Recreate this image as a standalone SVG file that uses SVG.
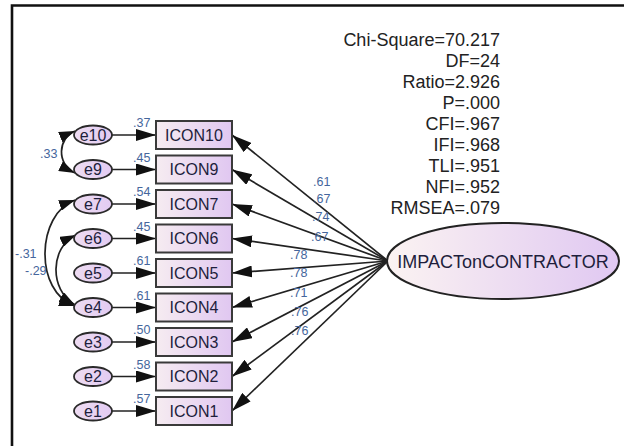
<svg xmlns="http://www.w3.org/2000/svg" width="624" height="446" viewBox="0 0 624 446">
  <style>
    .frame { fill: none; stroke: #111; stroke-width: 2.6; }
    .box { fill: url(#boxFill); stroke: #3a3a3a; stroke-width: 2; }
    .err { fill: url(#errFill); stroke: #2a2a2a; stroke-width: 1.8; }
    .latent { fill: url(#latFill); stroke: #222; stroke-width: 2; }
    .name { font-family: "Liberation Sans", Arial, sans-serif; font-size: 16px; fill: #1e1e3c; text-anchor: middle; }
    .lat { font-family: "Liberation Sans", Arial, sans-serif; font-size: 18px; fill: #1e1e3c; text-anchor: middle; }
    .est { font-family: "Liberation Sans", Arial, sans-serif; font-size: 12.5px; fill: #45669c; }
    .fit { font-family: "Liberation Sans", Arial, sans-serif; font-size: 18px; fill: #222; text-anchor: end; }
    .path { fill: none; stroke: #222; stroke-width: 1.7; marker-end: url(#head); }
    .cov { fill: none; stroke: #222; stroke-width: 1.7; marker-start: url(#covHead); marker-end: url(#covHead); }
  </style>
  <defs>
    <linearGradient id="boxFill" x1="0" y1="0" x2="1" y2="0">
      <stop offset="0" stop-color="#f6ecf1"/>
      <stop offset="1" stop-color="#e0c7f1"/>
    </linearGradient>
    <linearGradient id="errFill" x1="0" y1="0" x2="1" y2="0">
      <stop offset="0" stop-color="#eedcf2"/>
      <stop offset="1" stop-color="#e2cbf2"/>
    </linearGradient>
    <linearGradient id="latFill" x1="0" y1="0" x2="1" y2="0">
      <stop offset="0" stop-color="#fbf3f2"/>
      <stop offset="1" stop-color="#e0c8f2"/>
    </linearGradient>
    <marker id="head" markerUnits="userSpaceOnUse" markerWidth="20" markerHeight="12" viewBox="0 0 20 12" refX="20" refY="6" orient="auto">
      <path d="M0,0 L20,6 L0,12 Z" fill="#111"/>
    </marker>
    <marker id="covHead" markerUnits="userSpaceOnUse" markerWidth="16" markerHeight="11" viewBox="0 0 16 11" refX="16" refY="5.5" orient="auto-start-reverse">
      <path d="M0,0 L16,5.5 L0,11 Z" fill="#111"/>
    </marker>
  </defs>

  <!-- frame -->
  <path class="frame" d="M12,446 L12,5.5 L624,5.5"/>

  <!-- fit statistics -->
  <g id="fit-stats">
    <text class="fit" x="500" y="45.5">Chi-Square=70.217</text>
    <text class="fit" x="500" y="66.6">DF=24</text>
    <text class="fit" x="500" y="87.7">Ratio=2.926</text>
    <text class="fit" x="500" y="108.8">P=.000</text>
    <text class="fit" x="500" y="129.9">CFI=.967</text>
    <text class="fit" x="500" y="151">IFI=.968</text>
    <text class="fit" x="500" y="172.1">TLI=.951</text>
    <text class="fit" x="500" y="193.2">NFI=.952</text>
    <text class="fit" x="500" y="214.3">RMSEA=.079</text>
  </g>

  <!-- connectors -->
  <g id="connectors">
    <!-- error terms to indicators -->
    <path class="path" d="M112,135 L156,135"/>
    <path class="path" d="M112,169.5 L156,169.5"/>
    <path class="path" d="M112,204 L156,204"/>
    <path class="path" d="M112,238.5 L156,238.5"/>
    <path class="path" d="M112,273 L156,273"/>
    <path class="path" d="M112,307.5 L156,307.5"/>
    <path class="path" d="M112,342 L156,342"/>
    <path class="path" d="M112,376.5 L156,376.5"/>
    <path class="path" d="M112,411 L156,411"/>
    <!-- factor loadings -->
    <path class="path" d="M388,261 L232,135"/>
    <path class="path" d="M388,261 L232,169.5"/>
    <path class="path" d="M388,261 L232,204"/>
    <path class="path" d="M388,261 L232,238.5"/>
    <path class="path" d="M388,261 L232,273"/>
    <path class="path" d="M388,261 L232,307.5"/>
    <path class="path" d="M388,261 L232,342"/>
    <path class="path" d="M388,261 L232,376.5"/>
    <path class="path" d="M388,261 L232,411"/>
    <!-- error covariances -->
    <path class="cov" d="M75,131 C58,138 56,164 75,173"/>
    <path class="cov" d="M75,200 C36,214 34,292 75,306"/>
    <path class="cov" d="M76,235 C50,247 49,290 75,305"/>
    <!-- estimates -->
    <text class="est" x="40" y="158">.33</text>
    <text class="est" x="15" y="258">-.31</text>
    <text class="est" x="25" y="275">-.29</text>
    <text class="est" x="133" y="127">.37</text>
    <text class="est" x="133" y="162">.45</text>
    <text class="est" x="133" y="196">.54</text>
    <text class="est" x="133" y="231">.45</text>
    <text class="est" x="133" y="265">.61</text>
    <text class="est" x="133" y="300">.61</text>
    <text class="est" x="133" y="334">.50</text>
    <text class="est" x="133" y="369">.58</text>
    <text class="est" x="133" y="403">.57</text>
    <text class="est" x="313" y="186">.61</text>
    <text class="est" x="313" y="203">.67</text>
    <text class="est" x="312" y="221">.74</text>
    <text class="est" x="311" y="241">.67</text>
    <text class="est" x="290" y="259">.78</text>
    <text class="est" x="290" y="277">.78</text>
    <text class="est" x="290" y="297">.71</text>
    <text class="est" x="291" y="316">.76</text>
    <text class="est" x="291" y="335">.76</text>
  </g>

  <!-- latent factor -->
  <g id="IMPACTonCONTRACTOR">
    <ellipse class="latent" cx="503" cy="261" rx="116" ry="38"/>
    <text class="lat" x="503" y="267.5">IMPACTonCONTRACTOR</text>
  </g>

  <!-- indicators -->
  <g id="ICON10"><rect class="box" x="156" y="121" width="76" height="28"/><text class="name" x="194" y="140.8">ICON10</text></g>
  <g id="ICON9"><rect class="box" x="156" y="155.5" width="76" height="28"/><text class="name" x="194" y="175.3">ICON9</text></g>
  <g id="ICON7"><rect class="box" x="156" y="190" width="76" height="28"/><text class="name" x="194" y="209.8">ICON7</text></g>
  <g id="ICON6"><rect class="box" x="156" y="224.5" width="76" height="28"/><text class="name" x="194" y="244.3">ICON6</text></g>
  <g id="ICON5"><rect class="box" x="156" y="259" width="76" height="28"/><text class="name" x="194" y="278.8">ICON5</text></g>
  <g id="ICON4"><rect class="box" x="156" y="293.5" width="76" height="28"/><text class="name" x="194" y="313.3">ICON4</text></g>
  <g id="ICON3"><rect class="box" x="156" y="328" width="76" height="28"/><text class="name" x="194" y="347.8">ICON3</text></g>
  <g id="ICON2"><rect class="box" x="156" y="362.5" width="76" height="28"/><text class="name" x="194" y="382.3">ICON2</text></g>
  <g id="ICON1"><rect class="box" x="156" y="397" width="76" height="28"/><text class="name" x="194" y="416.8">ICON1</text></g>

  <!-- error terms -->
  <g id="e10"><ellipse class="err" cx="93" cy="135" rx="19" ry="9.5"/><text class="name" x="93" y="140.6">e10</text></g>
  <g id="e9"><ellipse class="err" cx="93" cy="169.5" rx="19" ry="9.5"/><text class="name" x="93" y="175.1">e9</text></g>
  <g id="e7"><ellipse class="err" cx="93" cy="204" rx="19" ry="9.5"/><text class="name" x="93" y="209.6">e7</text></g>
  <g id="e6"><ellipse class="err" cx="93" cy="238.5" rx="19" ry="9.5"/><text class="name" x="93" y="244.1">e6</text></g>
  <g id="e5"><ellipse class="err" cx="93" cy="273" rx="19" ry="9.5"/><text class="name" x="93" y="278.6">e5</text></g>
  <g id="e4"><ellipse class="err" cx="93" cy="307.5" rx="19" ry="9.5"/><text class="name" x="93" y="313.1">e4</text></g>
  <g id="e3"><ellipse class="err" cx="93" cy="342" rx="19" ry="9.5"/><text class="name" x="93" y="347.6">e3</text></g>
  <g id="e2"><ellipse class="err" cx="93" cy="376.5" rx="19" ry="9.5"/><text class="name" x="93" y="382.1">e2</text></g>
  <g id="e1"><ellipse class="err" cx="93" cy="411" rx="19" ry="9.5"/><text class="name" x="93" y="416.6">e1</text></g>
</svg>
